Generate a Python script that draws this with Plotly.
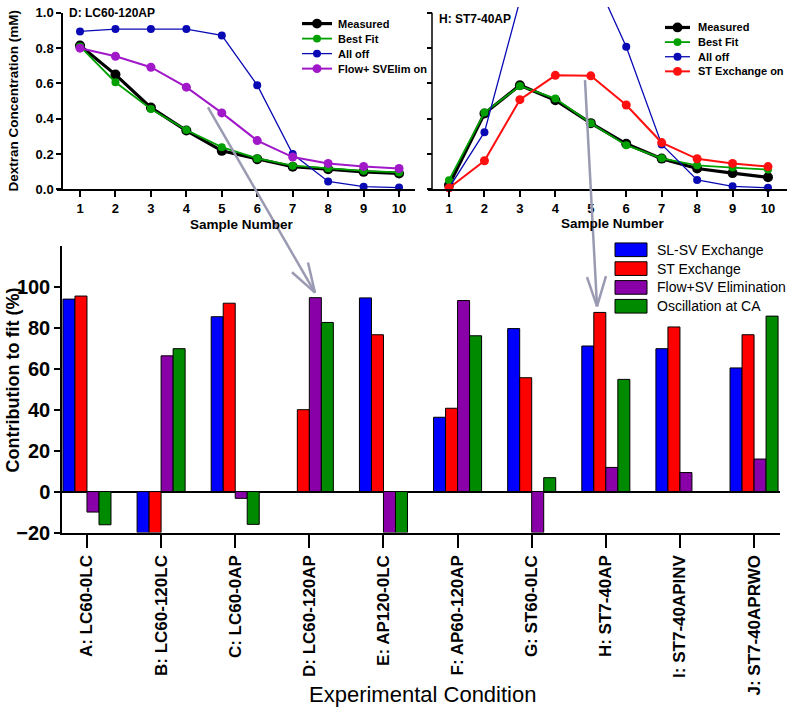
import plotly.graph_objects as go

W, H = 787, 721
FONT = "Arial, Liberation Sans, sans-serif"


def px(x):
    return x / W


def py(y):
    return 1 - y / H


# ---------------- data ----------------
samples = list(range(1, 11))

d_measured = [0.815, 0.650, 0.463, 0.333, 0.218, 0.171, 0.128, 0.114, 0.099, 0.090]
d_bestfit = [0.810, 0.607, 0.455, 0.336, 0.239, 0.175, 0.134, 0.120, 0.105, 0.096]
d_alloff = [0.895, 0.908, 0.908, 0.908, 0.872, 0.590, 0.200, 0.045, 0.015, 0.010]
d_flow = [0.800, 0.754, 0.692, 0.579, 0.433, 0.276, 0.183, 0.147, 0.130, 0.118]

h_measured = [0.024, 0.430, 0.590, 0.505, 0.375, 0.258, 0.174, 0.118, 0.092, 0.068]
h_bestfit = [0.052, 0.435, 0.586, 0.514, 0.374, 0.250, 0.176, 0.136, 0.123, 0.112]
h_alloff = [0.008, 0.324, 1.070, 1.220, 1.250, 0.808, 0.254, 0.053, 0.017, 0.009]
h_stex = [0.008, 0.162, 0.508, 0.646, 0.643, 0.478, 0.265, 0.173, 0.147, 0.129]

conditions = ["A: LC60-0LC", "B: LC60-120LC", "C: LC60-0AP", "D: LC60-120AP",
              "E: AP120-0LC", "F: AP60-120AP", "G: ST60-0LC", "H: ST7-40AP",
              "I: ST7-40APINV", "J: ST7-40APRWO"]
slsv_exchange = [94.0, -20.0, 85.4, None, 94.6, 36.3, 79.6, 71.1, 69.8, 60.4]
st_exchange = [95.5, -20.0, 92.0, 40.0, 76.6, 40.7, 55.6, 87.5, 80.4, 76.6]
flow_sv_elim = [-10.0, 66.3, -3.3, 94.7, -20.0, 93.3, -20.0, 11.8, 9.3, 15.9]
oscillation_ca = [-16.2, 69.8, -16.0, 82.6, -20.0, 76.1, 6.8, 54.8, None, 85.7]

y_ticks_top = [0.0, 0.2, 0.4, 0.6, 0.8, 1.0]
y_ticks_bar = [-20, 0, 20, 40, 60, 80, 100]

# ---------------- styles ----------------
C_BLACK = "#000000"
C_GREEN = "#00a000"
C_NAVY = "#0a0ab4"
C_PURPLE = "#a018c8"
C_RED = "#ff1010"

line_series_left = [
    ("Measured", d_measured, C_BLACK, 3.2, 10),
    ("Best Fit", d_bestfit, C_GREEN, 1.8, 8),
    ("All off", d_alloff, C_NAVY, 1.3, 8),
    ("Flow+ SVElim on", d_flow, C_PURPLE, 2.0, 9),
]
line_series_right = [
    ("Measured", h_measured, C_BLACK, 3.2, 10),
    ("Best Fit", h_bestfit, C_GREEN, 1.8, 8),
    ("All off", h_alloff, C_NAVY, 1.3, 8),
    ("ST Exchange on", h_stex, C_RED, 2.0, 9),
]
bar_series = [
    ("SL-SV Exchange", slsv_exchange, "#0000ff"),
    ("ST Exchange", st_exchange, "#ff0000"),
    ("Flow+SV Elimination", flow_sv_elim, "#8a00a8"),
    ("Oscillation at CA", oscillation_ca, "#008a00"),
]

fig = go.Figure()

for name, vals, col, lw, ms in line_series_left:
    fig.add_trace(go.Scatter(x=samples, y=vals, mode="lines+markers", name=name,
                             line=dict(color=col, width=lw),
                             marker=dict(color=col, size=ms),
                             cliponaxis=False, showlegend=False,
                             xaxis="x", yaxis="y"))
for name, vals, col, lw, ms in line_series_right:
    fig.add_trace(go.Scatter(x=samples, y=vals, mode="lines+markers", name=name,
                             line=dict(color=col, width=lw),
                             marker=dict(color=col, size=ms),
                             cliponaxis=False, showlegend=False,
                             xaxis="x2", yaxis="y2"))
for name, vals, col in bar_series:
    fig.add_trace(go.Bar(x=conditions, y=vals, name=name,
                         marker=dict(color=col, line=dict(color="black", width=1)),
                         showlegend=False, xaxis="x3", yaxis="y3"))

axis_common = dict(showline=True, linecolor="black", linewidth=1.5, ticks="outside",
                   tickcolor="black", tickwidth=1.5, showgrid=False, zeroline=False,
                   ticklabeloverflow="allow")
bold13 = dict(family=FONT, size=13, color="black", weight="bold")

fig.update_layout(
    width=W, height=H, autosize=False,
    margin=dict(l=0, r=0, t=0, b=0, pad=0),
    paper_bgcolor="white", plot_bgcolor="white",
    font=dict(family=FONT, color="black"),
    barmode="group", bargap=0.352, bargroupgap=0,
    xaxis=dict(domain=[px(57), px(415)], range=[0.351, 10.45], anchor="y",
               tickvals=samples, ticklen=6, tickfont=bold13, **axis_common),
    yaxis=dict(domain=[py(187), py(6)], range=[0, 1], anchor="free", position=px(62),
               tickvals=y_ticks_top, tickformat=".1f", ticklen=5, tickfont=bold13,
               **axis_common),
    xaxis2=dict(domain=[px(428), 1], range=[0.407, 10.536], anchor="y2",
                tickvals=samples, ticklen=6, tickfont=bold13, **axis_common),
    yaxis2=dict(domain=[py(187), 1], range=[0, 187 / 181], anchor="free", position=px(432),
                tickvals=y_ticks_top, ticklen=5, showticklabels=False,
                ticks="outside", tickcolor="black", tickwidth=1.5,
                showline=False, showgrid=False, zeroline=False),
    xaxis3=dict(domain=[px(62), px(780)], range=[-0.337, 9.35], anchor="y3",
                type="category", tickangle=-90, ticklen=14,
                tickfont=dict(family=FONT, size=17, color="black", weight="bold"),
                **axis_common),
    yaxis3=dict(domain=[py(539), py(245)], range=[-20, 120], anchor="x3",
                tickvals=y_ticks_bar, ticklen=6, ticklabeloverflow="allow",
                tickfont=dict(family=FONT, size=20, color="black", weight="bold"),
                showline=True, linecolor="black", linewidth=1.5, ticks="outside",
                tickcolor="black", tickwidth=1.5, showgrid=False,
                zeroline=True, zerolinecolor="black", zerolinewidth=1.5),
)

shapes = []
annotations = []

# right panel y-axis line (only up to 1.0)
shapes.append(dict(type="line", xref="paper", yref="paper",
                   x0=px(432), x1=px(432), y0=py(187), y1=py(6),
                   line=dict(color="black", width=1.5)))


def line_legend(entries, x0, x1, xt, y_start, dy):
    for i, (name, _vals, col, lw, ms) in enumerate(entries):
        yy = y_start + i * dy
        shapes.append(dict(type="line", xref="paper", yref="paper",
                           x0=px(x0), x1=px(x1), y0=py(yy), y1=py(yy),
                           line=dict(color=col, width=lw)))
        cx = (x0 + x1) / 2
        r = ms / 2
        shapes.append(dict(type="circle", xref="paper", yref="paper",
                           x0=px(cx - r), x1=px(cx + r), y0=py(yy + r), y1=py(yy - r),
                           fillcolor=col, line=dict(color=col, width=0)))
        annotations.append(dict(xref="paper", yref="paper", x=px(xt), y=py(yy),
                                xanchor="left", yanchor="middle", showarrow=False,
                                text=name,
                                font=dict(family=FONT, size=11, color="black", weight="bold")))


line_legend(line_series_left, 302, 332, 336, 17, 15.4)
line_legend(line_series_right, 665, 690, 696, 21, 15.0)

# bar legend
for i, (name, _vals, col) in enumerate(bar_series):
    yy = 249 + i * 19.3
    shapes.append(dict(type="rect", xref="paper", yref="paper",
                       x0=px(615), x1=px(647), y0=py(yy + 7), y1=py(yy - 7),
                       fillcolor=col, line=dict(color="black", width=1)))
    annotations.append(dict(xref="paper", yref="paper", x=px(655), y=py(yy),
                            xanchor="left", yanchor="middle", showarrow=False, text=name,
                            font=dict(family=FONT, size=14, color="black")))

# arrows
ARROW = dict(color="#9a9ab2", width=2.5)
arrow_defs = [
    ((208, 103), (315, 293), [(292, 272), (308, 262)]),
    ((585, 75), (597, 307), [(587, 277), (606, 276)]),
]
for (sx, sy), (tx, ty), wings in arrow_defs:
    shapes.append(dict(type="line", xref="paper", yref="paper", layer="above",
                       x0=px(sx), y0=py(sy), x1=px(tx), y1=py(ty), line=ARROW))
    for wx, wy in wings:
        shapes.append(dict(type="line", xref="paper", yref="paper", layer="above",
                           x0=px(wx), y0=py(wy), x1=px(tx), y1=py(ty), line=ARROW))


# titles and axis titles
def txt(x, y, text, size, bold=True, angle=0, xanchor="center"):
    f = dict(family=FONT, size=size, color="black")
    if bold:
        f["weight"] = "bold"
    annotations.append(dict(xref="paper", yref="paper", x=px(x), y=py(y), text=text,
                            showarrow=False, xanchor=xanchor, yanchor="middle",
                            textangle=angle, font=f))


txt(67, 6, "D: LC60-120AP", 12, xanchor="left")
txt(437, 12, "H: ST7-40AP", 12, xanchor="left")
txt(242, 223, "Sample Number", 13.5)
txt(613, 222, "Sample Number", 13.5)
txt(14, 96, "Dextran Concentration (mM)", 13.5, angle=-90)
txt(13, 383, "Contribution to fit (%)", 18, angle=-90)
txt(422, 705, "Experimental Condition", 22, bold=False)

fig.update_layout(shapes=shapes, annotations=annotations)

css_fix = (
    "var s='margin:0;padding:0;overflow:hidden;width:787px;height:721px;';"
    "document.documentElement.style.cssText=s;"
    "document.body.style.cssText=s;"
    "var p=document.body.firstElementChild; if(p){p.style.cssText='margin:0;padding:0;height:721px;overflow:hidden;';}"
)

fig.write_html("out.html", config={"displayModeBar": False}, post_script=css_fix)
